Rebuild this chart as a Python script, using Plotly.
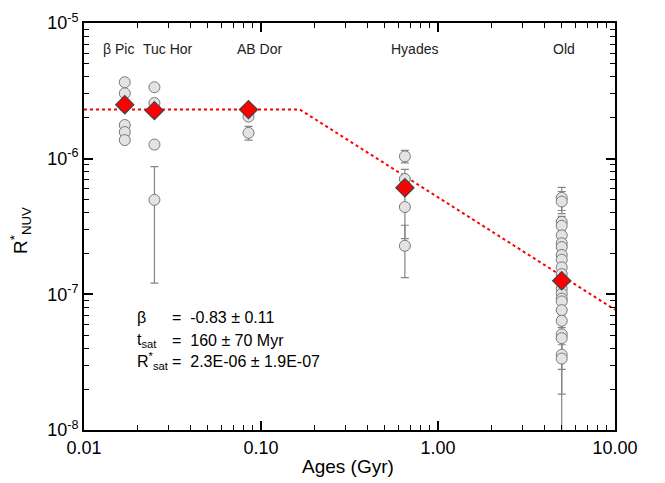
import numpy as np
import plotly.graph_objects as go

# ---------------- data ----------------
group_names = ["β Pic", "Tuc Hor", "AB Dor", "Hyades", "Old"]
group_ages = [0.017, 0.025, 0.085, 0.65, 5.0]
label_ages = [0.0156, 0.030, 0.0987, 0.736, 5.12]

bpic_vals = [3.66e-6, 3.03e-6, 1.77e-6, 1.57e-6, 1.37e-6]
bpic_errs = [0, 0, 0, 0, 0]
tuchor_vals = [3.36e-6, 2.57e-6, 1.27e-6, 4.97e-7]
tuchor_errs = [0, 0, 0, 3.76e-7]
abdor_vals = [2.3e-6, 2.04e-6, 1.55e-6]
abdor_errs = [0, 0, 1.8e-7]
hyades_vals = [1.04e-6, 7.08e-7, 6.3e-7, 4.4e-7, 2.28e-7]
hyades_errs = [1.1e-7, 1.26e-7, 0, 1.83e-7, 9.5e-8]
old_vals = [5.15e-7, 4.83e-7, 3.42e-7, 3.2e-7, 2.72e-7, 2.38e-7, 2.23e-7,
            1.95e-7, 1.8e-7, 1.58e-7, 1.41e-7, 1.1e-7, 1.01e-7, 9.3e-8,
            8.87e-8, 7.65e-8, 6.38e-8, 5.07e-8, 4.75e-8, 3.59e-8, 3.36e-8]
old_errs = [1.0e-7, 0.9e-7, 3.4e-8, 3.0e-8, 2.5e-8, 2.2e-8, 2.0e-8,
            1.8e-8, 1.6e-8, 1.5e-8, 1.3e-8, 1.0e-8, 1.0e-8, 9e-9,
            9e-9, 8e-9, 7e-9, 2.27e-8, 5e-9, 1.75e-8, 3.0e-8]

mean_vals = [2.5e-6, 2.26e-6, 2.3e-6, 6.1e-7, 1.26e-7]

fit_ages = [0.01, 0.166, 10.0]
fit_vals = [2.3e-6, 2.3e-6, 7.7e-8]

x_tickvals = [0.01, 0.1, 1, 10]
x_ticktext = ["0.01", "0.10", "1.00", "10.00"]
y_tickvals = [1e-8, 1e-7, 1e-6, 1e-5]
y_ticktext = ["10<sup>-8</sup>", "10<sup>-7</sup>", "10<sup>-6</sup>", "10<sup>-5</sup>"]

stat_labels = ["β", "t<sub>sat</sub>", "R<sup>*</sup><sub>sat</sub>"]
stat_values = ["=  -0.83 ± 0.11", "=  160 ± 70 Myr", "=  2.3E-06 ± 1.9E-07"]

# ---------------- figure ----------------
FONT = "Liberation Sans, Arial, Helvetica, sans-serif"
fig = go.Figure()

fig.add_trace(go.Scatter(
    x=fit_ages, y=fit_vals, mode="lines",
    line=dict(color="red", width=2, dash="dot"),
    hoverinfo="skip", showlegend=False))

groups = [(bpic_vals, bpic_errs), (tuchor_vals, tuchor_errs), (abdor_vals, abdor_errs),
          (hyades_vals, hyades_errs), (old_vals, old_errs)]
for age, (vals, errs) in zip(group_ages, groups):
    fig.add_trace(go.Scatter(
        x=[age] * len(vals), y=vals, mode="markers",
        marker=dict(symbol="circle", size=11, color="#e3e3e3",
                    line=dict(color="#7a7a7a", width=1)),
        error_y=dict(type="data", array=errs, visible=True,
                     color="#858585", thickness=1.2, width=4),
        showlegend=False))

fig.add_trace(go.Scatter(
    x=group_ages, y=mean_vals, mode="markers",
    marker=dict(symbol="diamond", size=14, color="red",
                line=dict(color="#444444", width=1.2)),
    showlegend=False))

ann = []
for name, la in zip(group_names, label_ages):
    ann.append(dict(x=np.log10(la), y=(430 - 37.5) / 419.3, xref="x", yref="paper",
                    text=name, showarrow=False, xanchor="center", yanchor="middle",
                    font=dict(family=FONT, size=14, color="#222222")))

stat_y = [314.5, 338.0, 359.0]
for lab, val, py in zip(stat_labels, stat_values, stat_y):
    yy = (430 - py) / 419.3
    ann.append(dict(x=(135 - 84) / 531, y=yy, xref="paper", yref="paper", text=lab,
                    showarrow=False, xanchor="left", yanchor="middle",
                    font=dict(family=FONT, size=16, color="black")))
    ann.append(dict(x=(170 - 84) / 531, y=yy, xref="paper", yref="paper", text=val,
                    showarrow=False, xanchor="left", yanchor="middle",
                    font=dict(family=FONT, size=16, color="black")))

ann.append(dict(x=(20 - 84) / 531, y=(430 - 225) / 419.3, xref="paper", yref="paper",
                text="R<sup>*</sup><sub>NUV</sub>", textangle=-90, showarrow=False,
                xanchor="center", yanchor="middle",
                font=dict(family=FONT, size=19, color="black")))
ann.append(dict(x=(348 - 84) / 531, y=(430 - 468) / 419.3, xref="paper", yref="paper",
                text="Ages (Gyr)", showarrow=False, xanchor="center", yanchor="middle",
                font=dict(family=FONT, size=19, color="black")))

minor_x = [m * 10.0 ** e for e in range(-2, 1) for m in range(2, 10)]
minor_y = [m * 10.0 ** e for e in range(-8, -5) for m in range(2, 10)]

axis_common = dict(showgrid=False, zeroline=False, showline=True, linecolor="black",
                   linewidth=2, mirror="ticks", ticks="inside", ticklen=9,
                   tickwidth=1.6, tickcolor="black",
                   tickfont=dict(family=FONT, size=18, color="black"))

fig.update_xaxes(type="log", range=[-2.00001, 1.00001], tickmode="array",
                 tickvals=x_tickvals, ticktext=x_ticktext,
                 minor=dict(tickmode="array", tickvals=minor_x, ticks="inside",
                            ticklen=5, tickwidth=1.4, tickcolor="black", showgrid=False),
                 **axis_common)
fig.update_yaxes(type="log", range=[-8.00001, -4.99999], tickmode="array",
                 tickvals=y_tickvals, ticktext=y_ticktext,
                 minor=dict(tickmode="array", tickvals=minor_y, ticks="inside",
                            ticklen=5, tickwidth=1.4, tickcolor="black", showgrid=False),
                 **axis_common)

fig.update_layout(width=665, height=483, autosize=False,
                  margin=dict(l=84, r=50, t=11, b=53),
                  plot_bgcolor="white", paper_bgcolor="white",
                  annotations=ann, showlegend=False,
                  font=dict(family=FONT, color="black"))

fig.write_html("out.html", config={"displayModeBar": False},
               post_script="document.body.style.margin='0';document.body.style.padding='0';")
